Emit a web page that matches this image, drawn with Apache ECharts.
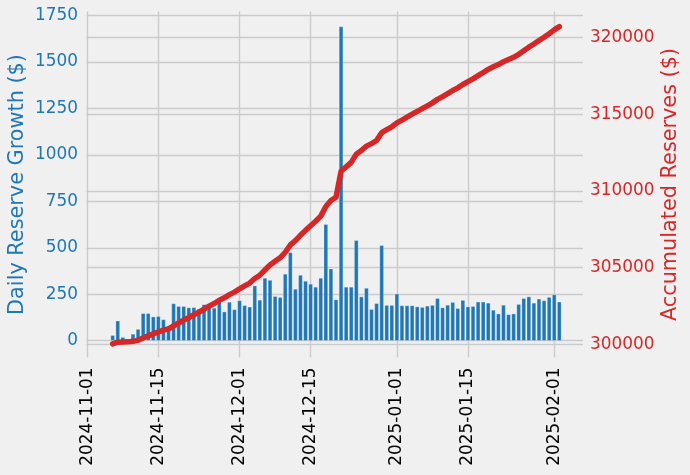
<!DOCTYPE html>
<html><head><meta charset="utf-8">
<script src="https://cdn.jsdelivr.net/npm/echarts@6/dist/echarts.min.js"></script>
<style>html,body{margin:0;padding:0;background:#f0f0f0}#c{width:690px;height:475px}</style>
</head><body><div id="c"></div><script>
const dates = [
'2024-11-06','2024-11-07','2024-11-08','2024-11-09','2024-11-10','2024-11-11','2024-11-12','2024-11-13','2024-11-14','2024-11-15',
'2024-11-16','2024-11-17','2024-11-18','2024-11-19','2024-11-20','2024-11-21','2024-11-22','2024-11-23','2024-11-24','2024-11-25',
'2024-11-26','2024-11-27','2024-11-28','2024-11-29','2024-11-30',
'2024-12-01','2024-12-02','2024-12-03','2024-12-04','2024-12-05','2024-12-06','2024-12-07','2024-12-08','2024-12-09','2024-12-10',
'2024-12-11','2024-12-12','2024-12-13','2024-12-14','2024-12-15','2024-12-16','2024-12-17','2024-12-18','2024-12-19','2024-12-20',
'2024-12-21','2024-12-22','2024-12-23','2024-12-24','2024-12-25','2024-12-26','2024-12-27','2024-12-28','2024-12-29','2024-12-30','2024-12-31',
'2025-01-01','2025-01-02','2025-01-03','2025-01-04','2025-01-05','2025-01-06','2025-01-07','2025-01-08','2025-01-09','2025-01-10',
'2025-01-11','2025-01-12','2025-01-13','2025-01-14','2025-01-15','2025-01-16','2025-01-17','2025-01-18','2025-01-19','2025-01-20',
'2025-01-21','2025-01-22','2025-01-23','2025-01-24','2025-01-25','2025-01-26','2025-01-27','2025-01-28','2025-01-29','2025-01-30','2025-01-31',
'2025-02-01','2025-02-02'];
const dailyGrowth = [
29,107,19,4,36,62,147,147,129,131,
114,78,200,185,185,178,179,171,195,192,
176,210,156,208,168,
216,190,182,296,219,337,326,239,234,359,
475,278,353,321,305,289,337,626,387,221,
1690,289,289,540,237,283,169,201,513,191,191,
252,189,189,189,183,180,187,191,228,178,
192,207,174,218,183,185,209,209,203,165,
145,192,141,145,196,228,237,203,225,216,234,
248,209];
const accumulatedReserves = [
300029,300136,300155,300159,300195,300257,300404,300551,300680,300811,
300925,301003,301203,301388,301573,301751,301930,302101,302296,302488,
302664,302874,303030,303238,303406,
303622,303812,303994,304290,304509,304846,305172,305411,305645,306004,
306479,306757,307110,307431,307736,308025,308362,308988,309375,309596,
311286,311575,311864,312404,312641,312924,313093,313294,313807,313998,314189,
314441,314630,314819,315008,315191,315371,315558,315749,315977,316155,
316347,316554,316728,316946,317129,317314,317523,317732,317935,318100,
318245,318437,318578,318723,318919,319147,319384,319587,319812,320028,320262,
320510,320719];
const xTickLabels = ['2024-11-01','2024-11-15','2024-12-01','2024-12-15','2025-01-01','2025-01-15','2025-02-01'];
const leftTicks = [0,250,500,750,1000,1250,1500,1750];
const rightTicks = [300000,305000,310000,315000,320000];

const DAY = 86400000;
const ts = s => Date.UTC(+s.slice(0,4), +s.slice(5,7)-1, +s.slice(8,10));
const xMin = ts('2024-11-01') - 0.16*DAY;
const xMax = xMin + 97.83*DAY;
const fmtDate = v => new Date(v).toISOString().slice(0,10);
const fmtNum = v => String(v);
const FONT = 'DejaVu Sans';
const GRID = {color:'#cbcbcb', width:1.4};
const TICK_FS = 16.9, NAME_FS = 20.8;

const chart = echarts.init(document.getElementById('c'), null, {renderer:'canvas'});
chart.setOption({
  animation:false,
  backgroundColor:'#f0f0f0',
  textStyle:{fontFamily:FONT},
  grid:{left:86.5, top:11.5, width:496.5, height:346, containLabel:false, outerBoundsMode:'none'},
  xAxis:{
    type:'value', min:xMin, max:xMax, scale:true,
    axisLine:{show:false}, axisTick:{show:false, customValues:xTickLabels.map(ts)},
    splitLine:{show:true, lineStyle:GRID},
    axisLabel:{customValues:xTickLabels.map(ts), formatter:fmtDate, rotate:90, margin:10,
      color:'#000', fontSize:TICK_FS, fontFamily:FONT, hideOverlap:false}
  },
  yAxis:[{
    type:'value', min:-90.4, max:1771.5, position:'left',
    name:'Daily Reserve Growth ($)', nameLocation:'middle', nameGap:58, nameRotate:90, nameMoveOverlap:false,
    nameTextStyle:{color:'#1f77b4', fontSize:NAME_FS, fontFamily:FONT},
    axisLine:{show:false}, axisTick:{show:false, customValues:leftTicks},
    splitLine:{show:true, lineStyle:GRID},
    axisLabel:{customValues:leftTicks, formatter:fmtNum, color:'#1f77b4', fontSize:TICK_FS, margin:8.5, fontFamily:FONT}
  },{
    type:'value', min:299139, max:321709, position:'right',
    name:'Accumulated Reserves ($)', nameLocation:'middle', nameGap:77, nameRotate:90, nameMoveOverlap:false,
    nameTextStyle:{color:'#d62728', fontSize:NAME_FS, fontFamily:FONT},
    axisLine:{show:false}, axisTick:{show:false, customValues:rightTicks},
    splitLine:{show:true, lineStyle:GRID},
    axisLabel:{customValues:rightTicks, formatter:fmtNum, color:'#d62728', fontSize:TICK_FS, margin:7, fontFamily:FONT}
  }],
  series:[{
    type:'bar', yAxisIndex:0, barWidth:4.1,
    itemStyle:{color:'#1f77b4', borderColor:'rgba(255,255,255,0.6)', borderWidth:0.4},
    data:dates.map((d,i)=>[ts(d), dailyGrowth[i]]), z:2
  },{
    type:'line', yAxisIndex:1, showSymbol:false, symbol:'none',
    lineStyle:{color:'#d62728', width:5.5, join:'round', cap:'round'},
    data:dates.map((d,i)=>[ts(d), accumulatedReserves[i]]), z:3
  }]
});
</script></body></html>
